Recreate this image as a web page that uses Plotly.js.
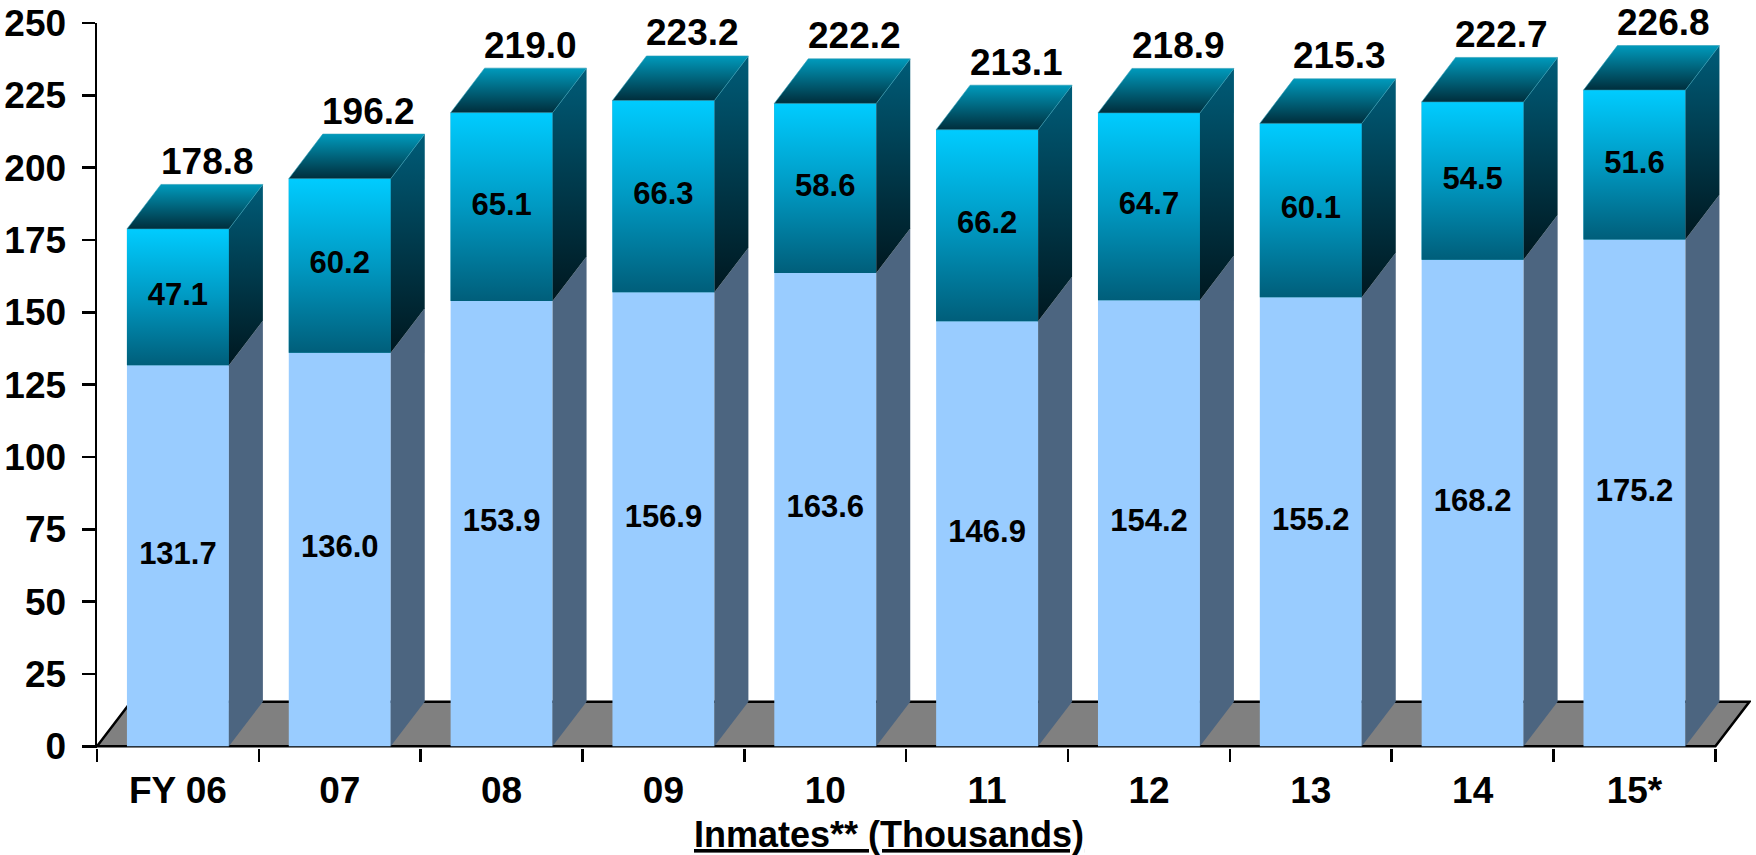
<!DOCTYPE html>
<html>
<head>
<meta charset="utf-8">
<script src="https://cdn.plot.ly/plotly-3.0.1.min.js"></script>
<style>
  html, body { margin: 0; padding: 0; background: #ffffff; }
  #chart { width: 1756px; height: 855px; }
</style>
</head>
<body>
<div id="chart"></div>
<script>
// ---- data ----
const categories = ['FY 06', '07', '08', '09', '10', '11', '12', '13', '14', '15*'];
const baseValues = [131.7, 136.0, 153.9, 156.9, 163.6, 146.9, 154.2, 155.2, 168.2, 175.2];
const upperValues = [47.1, 60.2, 65.1, 66.3, 58.6, 66.2, 64.7, 60.1, 54.5, 51.6];
const totals = [178.8, 196.2, 219.0, 223.2, 222.2, 213.1, 218.9, 215.3, 222.7, 226.8];
const yTicks = [0, 25, 50, 75, 100, 125, 150, 175, 200, 225, 250];
const axisTitle = 'Inmates** (Thousands)';

// ---- style / geometry ----
const FONT = 'Liberation Sans, Arial, Helvetica, sans-serif';
const BAR_W = 0.63;      // bar width in category units
const DEPTH_X = 0.21;    // 3D depth offset, category units
const DEPTH_Y = 15.4;    // 3D depth offset, value units
const LABEL_DX = 0.18;   // total label offset toward back face
const COL_BASE = '#99CCFF';
const COL_BASE_SIDE = '#4C6580';
const COL_FLOOR = '#808080';

const idx = categories.map((_, i) => i);
const tops = idx.map(i => baseValues[i] + upperValues[i]);
const boundaries = categories.map((_, i) => i - 0.5).concat([categories.length - 0.5]);
const nCat = categories.length;

const traces = [];

// front faces: stacked bars
traces.push({
  type: 'bar', x: idx, y: baseValues, width: BAR_W,
  marker: { color: COL_BASE, line: { width: 0 } },
  hoverinfo: 'skip', showlegend: false
});
traces.push({
  type: 'bar', x: idx, y: upperValues, base: baseValues, width: BAR_W,
  marker: { color: '#0099C0', line: { width: 0 } },
  hoverinfo: 'skip', showlegend: false
});

// gradient overlay on upper front faces, side faces and top faces
idx.forEach(i => {
  const x0 = i - BAR_W / 2, x1 = i + BAR_W / 2;
  const b = baseValues[i], t = tops[i];
  // front gradient
  traces.push({
    type: 'scatter', mode: 'none', x: [x0, x1, x1, x0, x0], y: [b, b, t, t, b],
    fill: 'toself',
    fillgradient: { type: 'vertical', colorscale: [[0, '#005E7A'], [0.5, '#0099C2'], [1, '#00CCFF']] },
    hoverinfo: 'skip', showlegend: false
  });
  // lower side face
  traces.push({
    type: 'scatter', mode: 'none',
    x: [x1, x1 + DEPTH_X, x1 + DEPTH_X, x1, x1],
    y: [0, DEPTH_Y, b + DEPTH_Y, b, 0],
    fill: 'toself', fillcolor: COL_BASE_SIDE,
    hoverinfo: 'skip', showlegend: false
  });
  // upper side face
  traces.push({
    type: 'scatter', mode: 'none',
    x: [x1, x1 + DEPTH_X, x1 + DEPTH_X, x1, x1],
    y: [b, b + DEPTH_Y, t + DEPTH_Y, t, b],
    fill: 'toself',
    fillgradient: { type: 'vertical', colorscale: [[0, '#001820'], [1, '#005C78']] },
    hoverinfo: 'skip', showlegend: false
  });
  // top face
  traces.push({
    type: 'scatter', mode: 'lines',
    x: [x0, x1, x1 + DEPTH_X, x0 + DEPTH_X, x0],
    y: [t, t, t + DEPTH_Y, t + DEPTH_Y, t],
    fill: 'toself',
    line: { width: 0.6, color: '#2A9CB5' },
    fillgradient: { type: 'vertical', colorscale: [[0, '#002E3C'], [1, '#009ABC']] },
    hoverinfo: 'skip', showlegend: false
  });
});

// segment value labels
traces.push({
  type: 'scatter', mode: 'text', x: idx, y: baseValues.map(v => v / 2),
  text: baseValues.map(v => v.toFixed(1)), textposition: 'middle center',
  textfont: { family: FONT, size: 31, color: '#000000', weight: 'bold' },
  hoverinfo: 'skip', showlegend: false, cliponaxis: false
});
traces.push({
  type: 'scatter', mode: 'text', x: idx, y: idx.map(i => baseValues[i] + upperValues[i] / 2),
  text: upperValues.map(v => v.toFixed(1)), textposition: 'middle center',
  textfont: { family: FONT, size: 31, color: '#000000', weight: 'bold' },
  hoverinfo: 'skip', showlegend: false, cliponaxis: false
});

// total labels above the bars
const annotations = idx.map(i => ({
  x: i + LABEL_DX, y: tops[i] + DEPTH_Y, xref: 'x', yref: 'y',
  text: totals[i].toFixed(1), showarrow: false,
  xanchor: 'center', yanchor: 'middle', yshift: 23,
  font: { family: FONT, size: 37, color: '#000000', weight: 'bold' }
}));
annotations.push({
  xref: 'paper', yref: 'paper', x: 0.479, y: -0.119,
  xanchor: 'center', yanchor: 'middle', showarrow: false,
  text: '<u>' + axisTitle + '</u>',
  font: { family: FONT, size: 36, color: '#000000', weight: 'bold' }
});

// floor (below the bars)
const fx0 = boundaries[0], fx1 = boundaries[boundaries.length - 1];
const floorPath = 'M ' + fx0 + ',0 L ' + fx1 + ',0 L ' + (fx1 + DEPTH_X) + ',' + DEPTH_Y +
  ' L ' + (fx0 + DEPTH_X) + ',' + DEPTH_Y + ' Z';

const layout = {
  width: 1756, height: 855,
  margin: { l: 96.5, r: 5.4, t: 23.3, b: 106.6, pad: 0 },
  paper_bgcolor: '#ffffff', plot_bgcolor: 'rgba(0,0,0,0)',
  barmode: 'overlay',
  hovermode: false,
  showlegend: false,
  xaxis: {
    type: 'linear', range: [-0.5, nCat - 0.5 + 0.22], fixedrange: true,
    tickmode: 'array', tickvals: idx, ticktext: categories,
    ticks: '', showline: false, showgrid: false, zeroline: false,
    ticklabelstandoff: 17,
    tickfont: { family: FONT, size: 37, color: '#000000', weight: 'bold' },
    minor: { tickmode: 'array', tickvals: boundaries, ticks: 'outside', ticklen: 13,
             tickwidth: 2.5, tickcolor: '#000000', showgrid: false }
  },
  yaxis: {
    range: [-0.6, 250], fixedrange: true,
    tickmode: 'array', tickvals: yTicks,
    ticks: 'outside', ticklen: 13, tickwidth: 2.5, tickcolor: '#000000',
    showline: true, linewidth: 2.5, linecolor: '#000000',
    showgrid: false, zeroline: false,
    ticklabelstandoff: 8,
    tickfont: { family: FONT, size: 37, color: '#000000', weight: 'bold' }
  },
  shapes: [{
    type: 'path', xref: 'x', yref: 'y', layer: 'below', path: floorPath,
    fillcolor: COL_FLOOR, line: { color: '#000000', width: 2.5 }
  }],
  annotations: annotations
};

Plotly.newPlot('chart', traces, layout, { displayModeBar: false, staticPlot: true });
</script>
</body>
</html>
